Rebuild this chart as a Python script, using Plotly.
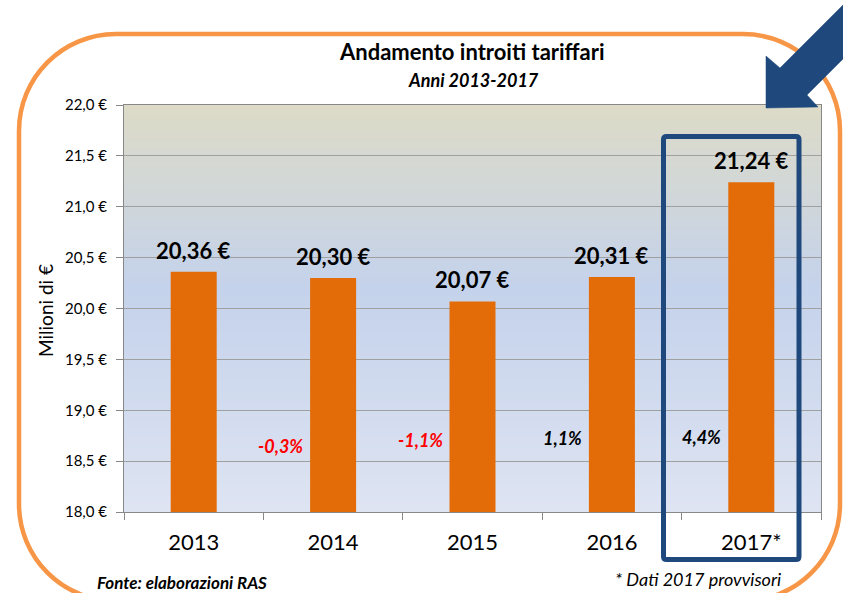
import plotly.graph_objects as go

# ---------------- data ----------------
years = ["2013", "2014", "2015", "2016", "2017*"]
revenues = [20.36, 20.30, 20.07, 20.31, 21.24]          # milioni di €
pct_change = [-0.3, -1.1, 1.1, 4.4]                      # variazione % vs anno precedente
pct_level = [18.65, 18.71, 18.73, 18.74]                 # altezza delle etichette %
y_ticks = [18.0, 18.5, 19.0, 19.5, 20.0, 20.5, 21.0, 21.5, 22.0]

# ---------------- geometry helpers ----------------
WIDTH, HEIGHT = 843, 593
L, R, T, B = 124, 22, 105, 81
PW, PH = WIDTH - L - R, HEIGHT - T - B
BOTTOM = HEIGHT - B

def px(x):
    return (x - L) / PW

def py(y):
    return (BOTTOM - y) / PH

FONT = "Lato"

fig = go.Figure()
fig.add_trace(go.Bar(
    x=years, y=revenues, width=0.33,
    marker=dict(color="#E36C09", line=dict(width=0)),
    hoverinfo="skip",
))

shapes = []
# gradient background of the plot area
stops = [(0.0, (222, 228, 242)), (0.55, (196, 210, 235)), (1.0, (221, 219, 199))]

def lerp_color(t):
    for (t0, c0), (t1, c1) in zip(stops[:-1], stops[1:]):
        if t0 <= t <= t1:
            f = (t - t0) / (t1 - t0)
            return "rgb(%d,%d,%d)" % tuple(round(a + (b - a) * f) for a, b in zip(c0, c1))
    return "rgb(%d,%d,%d)" % stops[-1][1]

N = 120
for i in range(N):
    y0 = i / N
    y1 = (i + 1) / N + 0.002
    shapes.append(dict(type="rect", xref="paper", yref="paper", x0=0, x1=1, y0=y0, y1=min(y1, 1),
                       fillcolor=lerp_color((i + 0.5) / N), line=dict(width=0), layer="below"))

# orange rounded frame
x0, y0, x1, y1, r = 19, 34, 840, 601, 97
k = 0.5523 * r
def P(x, y):
    return "%.5f,%.5f" % (px(x), py(y))
frame = ("M " + P(x0 + r, y0) + " L " + P(x1 - r, y0) +
         " C " + P(x1 - r + k, y0) + " " + P(x1, y0 + r - k) + " " + P(x1, y0 + r) +
         " L " + P(x1, y1 - r) +
         " C " + P(x1, y1 - r + k) + " " + P(x1 - r + k, y1) + " " + P(x1 - r, y1) +
         " L " + P(x0 + r, y1) +
         " C " + P(x0 + r - k, y1) + " " + P(x0, y1 - r + k) + " " + P(x0, y1 - r) +
         " L " + P(x0, y0 + r) +
         " C " + P(x0, y0 + r - k) + " " + P(x0 + r - k, y0) + " " + P(x0 + r, y0) + " Z")
shapes.append(dict(type="path", xref="paper", yref="paper", path=frame,
                   line=dict(color="#F79646", width=4.5), fillcolor="rgba(0,0,0,0)", layer="above"))

# dark blue highlight box around 2017
bx0, by0, bx1, by1, br = 663.5, 136.5, 799, 559.5, 3
box = ("M " + P(bx0 + br, by0) + " L " + P(bx1 - br, by0) + " Q " + P(bx1, by0) + " " + P(bx1, by0 + br) +
       " L " + P(bx1, by1 - br) + " Q " + P(bx1, by1) + " " + P(bx1 - br, by1) +
       " L " + P(bx0 + br, by1) + " Q " + P(bx0, by1) + " " + P(bx0, by1 - br) +
       " L " + P(bx0, by0 + br) + " Q " + P(bx0, by0) + " " + P(bx0 + br, by0) + " Z")
shapes.append(dict(type="path", xref="paper", yref="paper", path=box,
                   line=dict(color="#1F497D", width=5), fillcolor="rgba(0,0,0,0)", layer="above"))

# arrow pointing at the 2017 box
arrow_pts = [(766, 108), (766, 56), (780, 68), (852, -4), (852, 50), (807, 95), (818, 107)]
arrow = "M " + " L ".join(P(x, y) for x, y in arrow_pts) + " Z"
shapes.append(dict(type="path", xref="paper", yref="paper", path=arrow,
                   line=dict(color="#1F497D", width=0.5), fillcolor="#1F497D", layer="above"))

annotations = []
# bar value labels (category index used as x)
for i, v in enumerate(revenues):
    annotations.append(dict(x=i, y=v, xref="x", yref="y", yanchor="bottom", yshift=6,
                            text="<b>%s €</b>" % ("%.2f" % v).replace(".", ","),
                            showarrow=False, font=dict(family=FONT, size=22, color="black")))
# percentage change labels
for i, (p, lv) in enumerate(zip(pct_change, pct_level)):
    txt = ("%.1f%%" % p).replace(".", ",")
    annotations.append(dict(x=i + 1 - 0.2, y=lv, xref="x", yref="y", xanchor="right", yanchor="middle",
                            text="<b><i>%s</i></b>" % txt, showarrow=False,
                            font=dict(family=FONT, size=18, color="#FF0000" if p < 0 else "black")))
# titles and notes
annotations += [
    dict(x=px(472), y=py(52), xref="paper", yref="paper", text="<b>Andamento introiti tariffari</b>",
         showarrow=False, font=dict(family=FONT, size=22, color="black"), xanchor="center", yanchor="middle"),
    dict(x=px(473), y=py(80), xref="paper", yref="paper", text="<b><i>Anni 2013-2017</i></b>",
         showarrow=False, font=dict(family=FONT, size=18, color="black"), xanchor="center", yanchor="middle"),
    dict(x=px(45), y=py(311), xref="paper", yref="paper", text="Milioni di €", textangle=-90,
         showarrow=False, font=dict(family=FONT, size=19, color="black"), xanchor="center", yanchor="middle"),
    dict(x=px(95), y=py(582), xref="paper", yref="paper", text="<b><i>Fonte: elaborazioni RAS</i></b>",
         showarrow=False, font=dict(family=FONT, size=17, color="black"), xanchor="left", yanchor="middle"),
    dict(x=px(783), y=py(579), xref="paper", yref="paper", text="<i>* Dati 2017 provvisori</i>",
         showarrow=False, font=dict(family=FONT, size=18, color="black"), xanchor="right", yanchor="middle"),
]

fig.update_layout(
    width=WIDTH, height=HEIGHT,
    margin=dict(l=L, r=R, t=T, b=B, pad=0),
    paper_bgcolor="white", plot_bgcolor="rgb(222,228,242)",
    showlegend=False, separators=",.",
    shapes=shapes, annotations=annotations,
    xaxis=dict(type="category", tickson="boundaries", ticks="outside", ticklen=7, tickcolor="#888888",
               showline=True, linecolor="#888888", linewidth=1, mirror=True, showgrid=False,
               tickfont=dict(family=FONT, size=22, color="black"), ticklabelstandoff=11,
               range=[-0.5, 4.5], fixedrange=True),
    yaxis=dict(range=[18, 22], tickvals=y_ticks,
               ticktext=[("%.1f €" % v).replace(".", ",") for v in y_ticks],
               ticks="outside", ticklen=7, tickcolor="#888888",
               showline=True, linecolor="#888888", linewidth=1, mirror=True,
               showgrid=True, gridcolor="#A0A0A0", gridwidth=1, zeroline=False,
               tickfont=dict(family=FONT, size=15, color="black"), ticklabelstandoff=6,
               fixedrange=True),
)

fig.write_html("out.html", config={"displayModeBar": False},
               post_script="document.body.style.margin='0';document.body.style.overflow='hidden';")
